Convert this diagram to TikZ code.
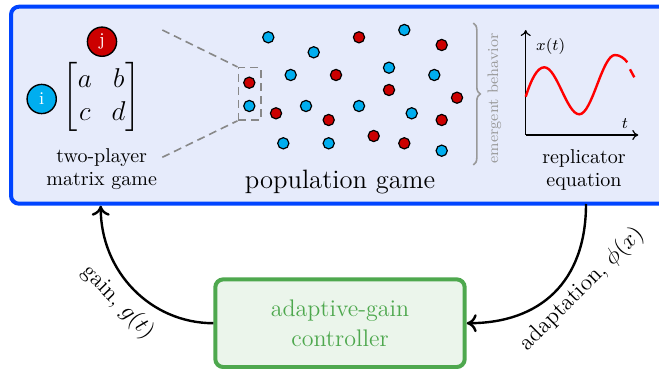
\RequirePackage{fix-cm}
\documentclass[tikz,border=0pt]{standalone}
\usepackage{amsmath}
\usepackage{fontspec}
\usetikzlibrary{arrows.meta,decorations.pathreplacing}
\definecolor{boxblue}{HTML}{0044FF}
\definecolor{fillblue}{HTML}{E6EBFB}
\definecolor{boxgreen}{HTML}{4EA84E}
\definecolor{fillgreen}{HTML}{EBF5EB}
\definecolor{dotred}{HTML}{CC0000}
\definecolor{dotblue}{HTML}{00AEEF}
\definecolor{dashgray}{HTML}{888888}
\definecolor{bracegray}{HTML}{999999}
\begin{document}
\begin{tikzpicture}[x=0.5pt,y=-0.5pt,
  dotr/.style={circle,draw=black,fill=dotred,line width=0.6pt,minimum size=5.6pt,inner sep=0pt},
  dotb/.style={circle,draw=black,fill=dotblue,line width=0.6pt,minimum size=5.6pt,inner sep=0pt},
  player/.style={circle,draw=black,line width=0.7pt,minimum size=14.6pt,inner sep=0pt,text=white,font=\fontsize{9}{10}\selectfont},
  caption/.style={align=center,inner sep=0pt,font=\fontsize{10}{11.5}\selectfont},
  dashline/.style={draw=dashgray,dash pattern=on 4pt off 2.5pt,line width=0.8pt},
  axisline/.style={draw=black,line width=0.6pt,-{To[length=3pt,width=5pt]}},
  curve/.style={draw=red,line width=1.2pt},
  fbarrow/.style={draw=black,line width=1.2pt,-{Computer Modern Rightarrow[length=5pt,width=9pt]}},
  fblabel/.style={inner sep=0pt,font=\fontsize{11.5}{13}\selectfont}]
\useasboundingbox (0,0) rectangle (659,369);
% main box
\node[draw=boxblue,fill=fillblue,line width=2pt,rounded corners=4pt,
  minimum width=329.5pt,minimum height=98.5pt,inner sep=0pt] (popbox) at (340.5,105.2) {};
% controller
\node[draw=boxgreen,fill=fillgreen,line width=2pt,rounded corners=4pt,
  minimum width=124.7pt,minimum height=43.85pt,inner sep=0pt,align=center,
  text=boxgreen,font=\fontsize{12}{14.8}\selectfont] (ctrl) at (340,323.2) {adaptive-gain\\controller};
% two-player game
\node[player,fill=dotred] (pj) at (102,41.7) {j};
\node[player,fill=dotblue] (pi) at (41.7,99) {i};
\node[inner sep=0pt,font=\fontsize{13.6}{16.3}\selectfont] (mat) at (101.7,97.3) {$\begin{bmatrix} a & b\\ c & d\end{bmatrix}$};
\node[caption] (cap1) at (101.7,169.5) {two-player\\matrix game};
% zoom rectangle
\node[dashline,draw,minimum width=11.35pt,minimum height=26.15pt,inner sep=0pt] (zoom) at (249.65,93.85) {};
\coordinate (zt) at (162.3,30);
\coordinate (zb) at (162.3,157.3);
\draw[dashline] (zt) -- (zoom.north west);
\draw[dashline] (zb) -- (zoom.south west);
% population dots
\foreach \px/\py/\c [count=\k] in {
  268.3/37.3/b, 313.7/52.3/b, 359/37.3/r, 404.3/30/b, 441.7/45/r,
  290.7/75/b, 336/75/r, 389/67.7/b, 434.3/75/b, 389/90/r, 457/97.7/r,
  249.3/82.7/r, 249.3/106/b, 276/113.3/r, 306/106/b, 328.7/120/r,
  359/106/b, 411.7/113.3/b, 441.7/120/r, 283.3/143.3/b, 328.7/143.3/b,
  373.7/136/r, 404.3/143.3/r, 441.7/150.7/b}
  \node[dot\c] (d\k) at (\px,\py) {};
\node[inner sep=0pt,font=\fontsize{13.3}{16}\selectfont] (cap2) at (340,181.7) {population game};
% brace
\coordinate (bt) at (473.3,23);
\coordinate (bb) at (473.3,165);
\draw[draw=bracegray,line width=0.8pt,decorate,decoration={brace,amplitude=3.5pt}] (bt) -- (bb);
\node[rotate=90,inner sep=0pt,text=bracegray,font=\fontsize{7.6}{8}\selectfont\addfontfeatures{LetterSpace=14}] (emerg) at (494.3,98.3) {emergent behavior};
% plot
\coordinate (O) at (525.7,135);
\coordinate (ytop) at (525.7,30);
\coordinate (xend) at (638.3,135);
\draw[axisline] (O) -- (ytop);
\draw[axisline] (O) -- (xend);
\node[inner sep=0pt,font=\fontsize{8}{9}\selectfont] (xlab) at (550.7,46.7) {$x(t)$};
\node[inner sep=0pt,font=\fontsize{8}{9}\selectfont] (tlab) at (625,123.3) {$t$};
\coordinate (s0) at (525.7,96.7);
\coordinate (s1) at (544.3,67.3);
\coordinate (s2) at (579.3,114.3);
\coordinate (s3) at (615,55);
\coordinate (s4) at (627.3,62.3);
\coordinate (s5) at (630,69.3);
\coordinate (s6) at (634.3,77.3);
\draw[curve] (s0) .. controls (531,80) and (537,67.3) .. (s1)
  .. controls (556.9,67.3) and (566.7,114.3) .. (s2)
  .. controls (592.2,114.3) and (602.1,55) .. (s3)
  .. controls (620,55) and (624.5,58.5) .. (s4);
\draw[curve] (s5) -- (s6);
\node[caption] (cap3) at (584,169.5) {replicator\\equation};
% feedback arrows
\coordinate (gin) at (100.7,205.7);
\coordinate (aout) at (586,204);
\draw[fbarrow] (ctrl.west) .. controls (151,323.2) and (100.7,272) .. (gin);
\draw[fbarrow] (aout) .. controls (586,282) and (540,323.2) .. (ctrl.east);
\node[fblabel,rotate=-46] (glab) at (118,302) {gain, $g(t)$};
\node[fblabel,rotate=45] (alab) at (582,289) {adaptation, $\phi(x)$};
\end{tikzpicture}
\end{document}
